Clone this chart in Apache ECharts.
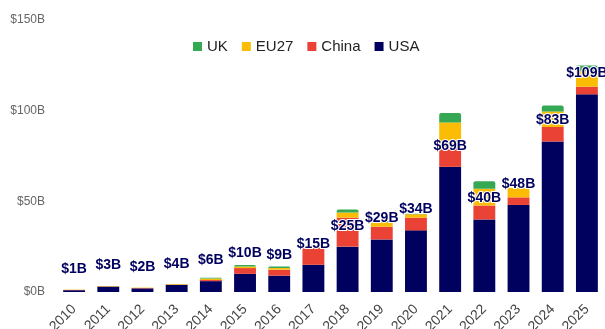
<!DOCTYPE html>
<html>
<head>
<meta charset="utf-8">
<script src="https://cdn.jsdelivr.net/npm/echarts@6/dist/echarts.min.js"></script>
<style>
  html, body { margin: 0; padding: 0; background: #ffffff; }
  #chart { width: 605px; height: 329px; }
</style>
</head>
<body>
<div id="chart"></div>
<script>
// Investment by region, billions of dollars per year
const years = ['2010','2011','2012','2013','2014','2015','2016','2017','2018','2019','2020','2021','2022','2023','2024','2025'];
const usa   = [1, 3, 2, 4, 6, 10, 9, 15, 25, 29, 34, 69, 40, 48, 83, 109];
const china = [0.1, 0.1, 0.2, 0.1, 0.6, 3.2, 3.3, 9.6, 16, 7, 7, 11, 7.7, 4.2, 8, 4.2];
const eu27  = [0.2, 0.2, 0.2, 0.3, 0.8, 0.8, 0.9, 0.5, 2.8, 2.5, 1.9, 13.5, 9.2, 5.2, 8.6, 8.7];
const uk    = [0, 0, 0, 0, 0.4, 0.9, 0.9, 0.4, 1.7, 0.6, 0.3, 5.2, 4.2, 0, 3.3, 3];
const yTicks = [0, 50, 100, 150];

const NAVY = '#00005e';
const chart = echarts.init(document.getElementById('chart'), null, { renderer: 'canvas' });

const barW = '64%';
chart.setOption({
  animation: false,
  textStyle: { fontFamily: 'Liberation Sans, Arial, sans-serif' },
  legend: {
    data: ['UK', 'EU27', 'China', 'USA'],
    left: 188,
    top: 34,
    itemWidth: 9,
    itemHeight: 9,
    itemGap: 14,
    icon: 'rect',
    textStyle: { fontSize: 15, color: '#222', fontFamily: 'Liberation Sans, Arial, sans-serif' }
  },
  grid: { left: 57, right: 1, top: 20, bottom: 37, containLabel: false, outerBoundsMode: 'none' },
  xAxis: {
    type: 'category',
    data: years,
    axisLine: { show: false },
    axisTick: { show: false },
    axisLabel: { rotate: 45, fontSize: 14, color: '#444', margin: 15, interval: 0 }
  },
  yAxis: {
    type: 'value',
    min: yTicks[0],
    max: yTicks[yTicks.length - 1],
    interval: 50,
    splitLine: { show: false },
    axisLine: { show: false },
    axisTick: { show: false },
    axisLabel: { fontSize: 12, color: '#666', margin: 12, formatter: v => '$' + v + 'B' }
  },
  series: [
    {
      name: 'USA', type: 'bar', stack: 'total', data: usa, barWidth: barW,
      itemStyle: { color: NAVY },
      label: {
        show: true, position: 'top', distance: 14,
        formatter: p => '$' + p.value + 'B',
        fontFamily: 'Liberation Sans, Arial, sans-serif',
        fontSize: 14, fontWeight: 'bold', color: NAVY,
        textBorderColor: '#ffffff', textBorderWidth: 2
      },
      z: 2
    },
    { name: 'China', type: 'bar', stack: 'total', data: china, barWidth: barW, itemStyle: { color: '#ea4335' } },
    { name: 'EU27', type: 'bar', stack: 'total', data: eu27, barWidth: barW, itemStyle: { color: '#fbbc05' } },
    { name: 'UK', type: 'bar', stack: 'total', data: uk, barWidth: barW, itemStyle: { color: '#34a853', borderRadius: [2, 2, 0, 0] } }
  ]
});
</script>
</body>
</html>
